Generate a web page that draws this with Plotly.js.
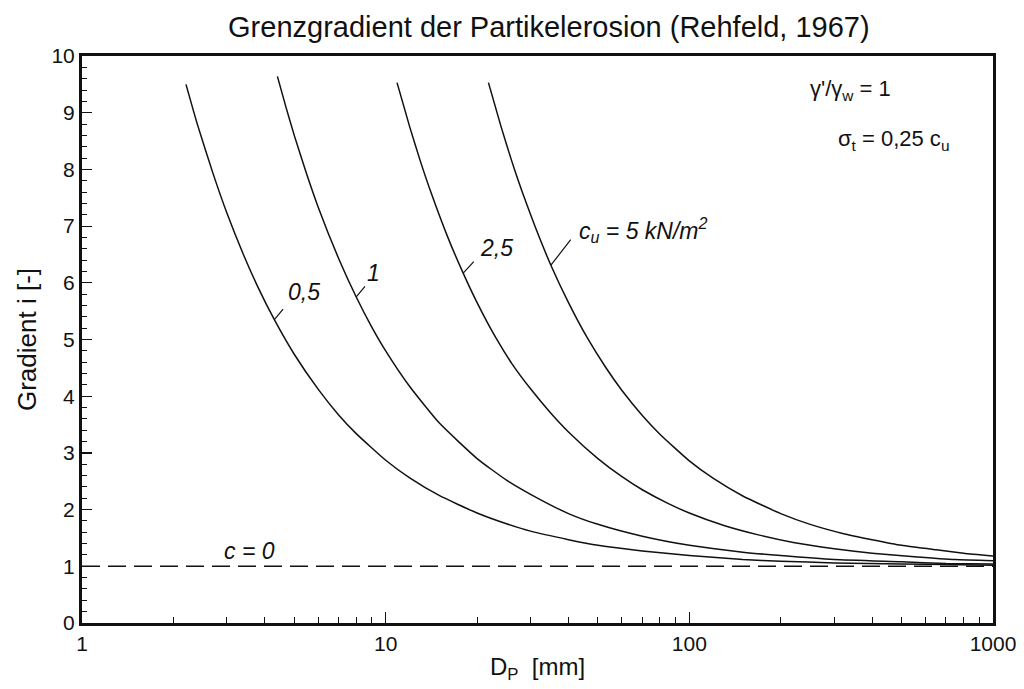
<!DOCTYPE html>
<html>
<head>
<meta charset="utf-8">
<script src="https://cdn.plot.ly/plotly-3.0.1.min.js"></script>
<style>html,body{margin:0;padding:0;background:#fff;}#chart{width:1024px;height:689px;}</style>
</head>
<body>
<div id="chart"></div>
<script>
// Particle diameter D_P [mm] and limit gradient i [-]
const D_cu05 = [2.2, 2.4, 2.7, 3, 3.4, 3.8, 4.3, 5, 6, 7, 8, 10, 12, 15, 20, 25, 30, 40, 50, 70, 100, 150, 200, 300, 500, 700, 1000];
const I_cu05 = [9.50, 8.79, 7.93, 7.23, 6.50, 5.92, 5.35, 4.74, 4.12, 3.67, 3.34, 2.87, 2.56, 2.25, 1.94, 1.75, 1.62, 1.47, 1.37, 1.27, 1.19, 1.12, 1.09, 1.06, 1.04, 1.03, 1.02];

const D_cu1 = [4.4, 4.7, 5, 5.5, 6, 7, 8, 9, 10, 12, 15, 20, 25, 30, 40, 50, 70, 100, 150, 200, 300, 500, 700, 1000];
const I_cu1 = [9.64, 9.09, 8.60, 7.91, 7.33, 6.43, 5.75, 5.22, 4.80, 4.17, 3.53, 2.90, 2.52, 2.27, 1.93, 1.74, 1.53, 1.37, 1.25, 1.19, 1.12, 1.08, 1.05, 1.04];

const D_cu25 = [10.9, 12, 13, 14, 16, 18, 20, 23, 26, 30, 35, 40, 50, 60, 70, 85, 100, 130, 170, 220, 300, 400, 550, 750, 1000];
const I_cu25 = [9.53, 8.75, 8.15, 7.64, 6.81, 6.17, 5.65, 5.04, 4.58, 4.13, 3.70, 3.37, 2.90, 2.58, 2.35, 2.11, 1.94, 1.72, 1.55, 1.42, 1.31, 1.23, 1.17, 1.12, 1.10];

const D_cu5 = [21.8, 24, 26, 28, 31, 35, 40, 46, 53, 60, 70, 80, 100, 120, 150, 200, 250, 320, 400, 500, 650, 800, 1000];
const I_cu5 = [9.53, 8.75, 8.15, 7.64, 7.00, 6.31, 5.65, 5.04, 4.51, 4.10, 3.66, 3.33, 2.86, 2.55, 2.24, 1.93, 1.74, 1.58, 1.47, 1.37, 1.29, 1.23, 1.18];

const D_c0 = [1, 1000];
const I_c0 = [1, 1];

const xTickVals = [1, 10, 100, 1000];
const xTickText = ['1', '10', '100', '1000'];
const curveLabels = ['0,5', '1', '2,5', 'c<sub>u</sub> = 5 kN/m<sup>2</sup>'];

const minorX = [];
[1, 10, 100].forEach(function (dec) { for (let k = 2; k <= 9; k++) minorX.push(k * dec); });

const FONT = 'Arial, "Liberation Sans", Helvetica, sans-serif';
const lineStyle = {color: '#111', width: 1.5, shape: 'spline', smoothing: 0.5};

const traces = [
  {x: D_cu05, y: I_cu05, mode: 'lines', line: lineStyle, name: '0,5'},
  {x: D_cu1, y: I_cu1, mode: 'lines', line: lineStyle, name: '1'},
  {x: D_cu25, y: I_cu25, mode: 'lines', line: lineStyle, name: '2,5'},
  {x: D_cu5, y: I_cu5, mode: 'lines', line: lineStyle, name: '5'},
  {x: D_c0, y: I_c0, mode: 'lines', line: {color: '#111', width: 1.6, dash: '18px,8px'}, name: 'c = 0'}
];

// label anchors: points on each curve
const anchors = [
  {d: D_cu05[6], i: I_cu05[6], tx: 10, ty: -12, xs: 30, ys: 28, xa: 'center'},
  {d: D_cu1[6], i: I_cu1[6], tx: 10, ty: -12, xs: 17, ys: 24, xa: 'center'},
  {d: D_cu25[5], i: I_cu25[5], tx: 12, ty: -13, xs: 33, ys: 25, xa: 'center'},
  {d: D_cu5[5], i: I_cu5[5], tx: 21, ty: -27, xs: 26, ys: 35, xa: 'left'}
];

const annotations = [];
anchors.forEach(function (a, k) {
  annotations.push({x: Math.log10(a.d), y: a.i, xref: 'x', yref: 'y', text: '', showarrow: true,
    arrowhead: 0, arrowwidth: 1.2, arrowcolor: '#111', ax: a.tx, ay: a.ty, standoff: 0});
  annotations.push({x: Math.log10(a.d), y: a.i, xref: 'x', yref: 'y', text: '<i>' + curveLabels[k] + '</i>',
    showarrow: false, xanchor: a.xa, yanchor: 'middle', xshift: a.xs, yshift: a.ys,
    font: {family: FONT, size: 23, color: '#111'}});
});
annotations.push({x: Math.log10(3.55), y: 1.27, xref: 'x', yref: 'y', text: '<i>c = 0</i>', showarrow: false,
  xanchor: 'center', yanchor: 'middle', font: {family: FONT, size: 23, color: '#111'}});
annotations.push({x: 850, y: 90, xref: 'paper', yref: 'paper', text: "γ'/γ<sub>w</sub> = 1", showarrow: false,
  font: {family: FONT, size: 22, color: '#111'}});
annotations.push({x: 893, y: 140, xref: 'paper', yref: 'paper', text: 'σ<sub>t</sub> = 0,25 c<sub>u</sub>', showarrow: false,
  font: {family: FONT, size: 22, color: '#111'}});

// convert pixel-placed paper annotations
const L = 82, R = 31, T = 56, B = 66, W = 1024, H = 689;
annotations.forEach(function (a) {
  if (a.xref === 'paper') {
    a.x = (a.x - L) / (W - L - R);
    a.y = (H - B - a.y) / (H - T - B);
    a.xanchor = 'center'; a.yanchor = 'middle';
  }
});

const layout = {
  width: W, height: H,
  margin: {l: L, r: R, t: T, b: B, pad: 0},
  paper_bgcolor: '#fff', plot_bgcolor: '#fff',
  showlegend: false,
  font: {family: FONT, size: 20, color: '#111'},
  title: {text: 'Grenzgradient der Partikelerosion (Rehfeld, 1967)', font: {family: FONT, size: 29, color: '#111'},
    xref: 'container', yref: 'container', x: 0.536, xanchor: 'center', y: 1 - 27 / H, yanchor: 'middle'},
  xaxis: {
    type: 'log', range: [0, 3], showgrid: false, zeroline: false,
    showline: true, linewidth: 3, linecolor: '#111', mirror: true,
    ticks: 'inside', ticklen: 11, tickwidth: 1.2, tickcolor: '#111',
    tickmode: 'array', tickvals: xTickVals, ticktext: xTickText,
    tickfont: {family: FONT, size: 21, color: '#111'},
    minor: {ticks: 'inside', ticklen: 6, tickwidth: 1, tickcolor: '#111', tickmode: 'array', tickvals: minorX, showgrid: false},
    title: {text: 'D<sub>P</sub>  [mm]', font: {family: FONT, size: 24, color: '#111'}, standoff: 4}
  },
  yaxis: {
    range: [0, 10], showgrid: false, zeroline: false,
    showline: true, linewidth: 3, linecolor: '#111', mirror: true,
    ticks: 'inside', ticklen: 10, tickwidth: 1.2, tickcolor: '#111',
    tickmode: 'linear', tick0: 0, dtick: 1,
    tickfont: {family: FONT, size: 21, color: '#111'},
    minor: {ticks: 'inside', ticklen: 5, tickwidth: 1, tickcolor: '#111', dtick: 0.2, showgrid: false},
    title: {text: 'Gradient i [-]', font: {family: FONT, size: 26, color: '#111'}, standoff: 8}
  },
  annotations: annotations
};

Plotly.newPlot('chart', traces, layout, {displayModeBar: false, staticPlot: true});
</script>
</body>
</html>
